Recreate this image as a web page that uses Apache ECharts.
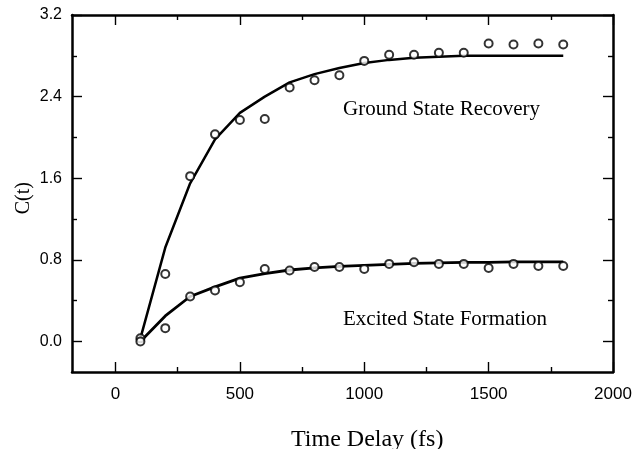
<!DOCTYPE html>
<html><head><meta charset="utf-8">
<script src="https://cdn.jsdelivr.net/npm/echarts@6/dist/echarts.min.js"></script>
<style>html,body{margin:0;padding:0;background:#fff}#c{width:636px;height:449px}</style>
</head><body><div id="c"></div>
<script>
// Measured data (circles)
const timePoints = [100,200,300,400,500,600,700,800,900,1000,1100,1200,1300,1400,1500,1600,1700,1800];
const groundData = [0.03,0.66,1.62,2.03,2.17,2.18,2.49,2.56,2.61,2.75,2.81,2.81,2.83,2.83,2.92,2.91,2.92,2.91];
const excitedData = [0.00,0.13,0.44,0.50,0.58,0.71,0.695,0.73,0.73,0.71,0.76,0.776,0.76,0.76,0.72,0.76,0.74,0.74];
// Fitted curves
const fitTimes = [100,200,300,400,500,600,700,800,900,1000,1100,1200,1300,1400,1500,1600,1700,1800];
const groundFit = [0.03,0.92,1.55,1.98,2.24,2.40,2.54,2.62,2.68,2.73,2.76,2.78,2.79,2.80,2.80,2.80,2.80,2.80];
const excitedFit = [0.0,0.25,0.44,0.535,0.62,0.665,0.70,0.72,0.735,0.745,0.755,0.765,0.77,0.775,0.775,0.78,0.78,0.78];
// Ticks
const xMajorTicks = [0,500,1000,1500,2000];
const xMinorTicks = [250,750,1250,1750];
const yMajorTicks = [0,0.8,1.6,2.4,3.2];
const yMinorTicks = [0.4,1.2,2.0,2.8];
const groundLabel = 'Ground State Recovery';
const excitedLabel = 'Excited State Formation';
const xTitle = 'Time Delay (fs)';
const yTitle = 'C(t)';

const zip = (a, b) => a.map((v, i) => [v, b[i]]);
const labelFont = '"Liberation Sans", Arial, sans-serif';

function axis(kind, pos, ticks, len, showLine, labels) {
  return {
    type:'value', position:pos,
    min: kind === 'x' ? -175 : -0.3,
    max: kind === 'x' ? 2000 : 3.2,
    axisLine:{show:showLine, onZero:false, lineStyle:{color:'#000', width:2.5}},
    axisTick:{show:true, inside:true, length:len, customValues:ticks, lineStyle:{color:'#000', width:1.4}},
    splitLine:{show:false},
    axisLabel: labels ? {show:true, customValues:labels, margin:kind === 'x' ? 14 : 10,
      color:'#000', fontFamily:labelFont, fontSize:kind === 'x' ? 17 : 16,
      formatter: v => kind === 'x' ? String(v) : v.toFixed(1)} : {show:false}
  };
}

const chart = echarts.init(document.getElementById('c'), null, {renderer:'canvas'});
chart.setOption({
  backgroundColor:'#fff',
  animation:false,
  grid:{left:72, right:23, top:15, bottom:77},
  xAxis:[
    axis('x','bottom',xMajorTicks,10,true,xMajorTicks),
    axis('x','bottom',xMinorTicks,5,false,null),
    axis('x','top',xMajorTicks,10,true,null),
    axis('x','top',xMinorTicks,5,false,null)
  ],
  yAxis:[
    axis('y','left',yMajorTicks,10,true,yMajorTicks),
    axis('y','left',yMinorTicks,5,false,null),
    axis('y','right',yMajorTicks,10,true,null),
    axis('y','right',yMinorTicks,5,false,null)
  ],
  graphic:[
    {type:'text', left:343, top:99, style:{text:groundLabel, fill:'#000', font:'21px "Liberation Serif", "Times New Roman", serif'}},
    {type:'text', left:343, top:309, style:{text:excitedLabel, fill:'#000', font:'21px "Liberation Serif", "Times New Roman", serif'}},
    {type:'text', left:291, top:428, style:{text:xTitle, fill:'#000', font:'24px "Liberation Serif", "Times New Roman", serif'}},
    {type:'text', left:14, top:182, rotation:Math.PI/2, style:{text:yTitle, fill:'#000', font:'20px "Liberation Serif", "Times New Roman", serif'}}
  ],
  series:[
    {type:'line', data:zip(fitTimes, groundFit), symbol:'none', lineStyle:{color:'#000', width:2.5}, z:2},
    {type:'line', data:zip(fitTimes, excitedFit), symbol:'none', lineStyle:{color:'#000', width:2.8}, z:2},
    {type:'scatter', data:zip(timePoints, groundData), symbol:'emptyCircle', symbolSize:8, itemStyle:{color:'#000', borderColor:'#000', borderWidth:1.2}, z:3},
    {type:'scatter', data:zip(timePoints, excitedData), symbol:'emptyCircle', symbolSize:8, itemStyle:{color:'#000', borderColor:'#000', borderWidth:1.2}, z:3}
  ]
});
</script></body></html>
